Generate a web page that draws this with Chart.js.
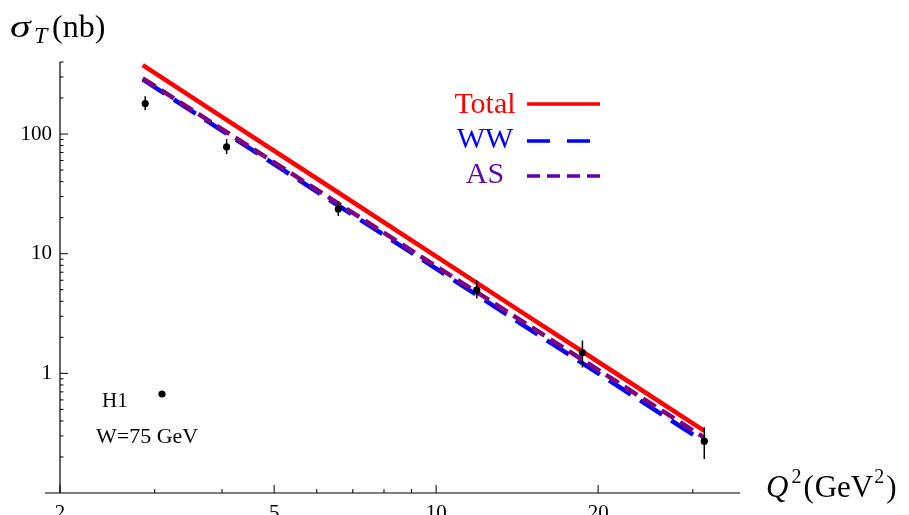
<!DOCTYPE html>
<html>
<head>
<meta charset="utf-8">
<script src="https://cdn.jsdelivr.net/npm/chart.js@4.4.1/dist/chart.umd.min.js"></script>
<style>
html,body{margin:0;padding:0;background:#fff;}
#c{display:block;}
</style>
</head>
<body>
<canvas id="c" width="909" height="515"></canvas>
<script>
// ---- data ----
const dataQ2     = [2.88, 4.08, 6.58, 11.9, 18.7, 31.5];
const dataSigma  = [180, 78, 23.6, 4.98, 1.49, 0.271];
const dataErrHi  = [207, 91, 27.3, 5.96, 1.88, 0.355];
const dataErrLo  = [158, 68, 20.7, 4.22, 1.12, 0.192];

const curveQ2    = [2.85, 4, 6, 10, 15, 20, 31.5];
const totalCurve = [376, 139, 42.5, 9.5, 2.9, 1.25, 0.33];
const wwCurve    = [286, 107, 33, 7.5, 2.3, 1.0, 0.268];
const asCurve    = [292, 110, 34.3, 7.85, 2.45, 1.07, 0.29];

const xTickLabels = [2, 5, 10, 20];
const xMinorTicks = [3, 4, 6, 7, 8, 9, 30];
const yTickLabels = [1, 10, 100];

const legendNames = ['Total', 'WW', 'AS'];

const SERIF = '"Liberation Serif", "Times New Roman", serif';

function pts(xs, ys){ return xs.map((x,i)=>({x:x, y:ys[i]})); }
function near(v, list){ return list.some(t => Math.abs(v - t) < 1e-6 * t); }

const decorPlugin = {
  id: 'decor',
  beforeDatasetsDraw(chart){
    const ctx = chart.ctx;
    const xs = chart.scales.x, ys = chart.scales.y;
    const ca = chart.chartArea;
    ctx.save();
    ctx.strokeStyle = '#000';
    ctx.lineWidth = 1.2;
    // axes
    ctx.beginPath();
    ctx.moveTo(ca.left - 15, ca.bottom); ctx.lineTo(ca.right, ca.bottom);
    ctx.moveTo(ca.left, ca.top); ctx.lineTo(ca.left, ca.bottom);
    ctx.stroke();
    ctx.lineWidth = 1;
    // x ticks (inward)
    ctx.beginPath();
    xTickLabels.forEach(v => { const p = xs.getPixelForValue(v); ctx.moveTo(p, ca.bottom); ctx.lineTo(p, ca.bottom - 8); });
    xMinorTicks.forEach(v => { const p = xs.getPixelForValue(v); ctx.moveTo(p, ca.bottom); ctx.lineTo(p, ca.bottom - 4); });
    // y ticks (inward)
    for (let k = -1; k <= 2; k++) {
      for (let m = 1; m <= 9; m++) {
        const v = m * Math.pow(10, k);
        if (v < ys.min * 1.0001 || v > ys.max * 1.0001) continue;
        const p = ys.getPixelForValue(v);
        ctx.moveTo(ca.left, p); ctx.lineTo(ca.left + (m === 1 ? 8 : 3.5), p);
      }
    }
    ctx.stroke();
    ctx.restore();
  },
  afterDatasetsDraw(chart){
    const ctx = chart.ctx;
    const xs = chart.scales.x, ys = chart.scales.y;
    ctx.save();
    // error bars
    ctx.strokeStyle = '#000';
    ctx.lineWidth = 1.5;
    ctx.beginPath();
    dataQ2.forEach((q, i) => {
      const px = xs.getPixelForValue(q);
      ctx.moveTo(px, ys.getPixelForValue(dataErrHi[i]));
      ctx.lineTo(px, ys.getPixelForValue(dataErrLo[i]));
    });
    ctx.stroke();

    // axis titles
    ctx.fillStyle = '#000';
    ctx.textBaseline = 'alphabetic';
    ctx.textAlign = 'left';
    // sigma_T(nb)
    ctx.save();
    ctx.translate(10, 37);
    ctx.scale(1.35, 1);
    ctx.font = 'italic 31px ' + SERIF;
    ctx.fillText('σ', 0, 0);
    ctx.restore();
    ctx.font = 'italic 24px ' + SERIF;
    ctx.fillText('T', 34, 43);
    ctx.font = '32px ' + SERIF;
    ctx.fillText('(nb)', 52, 37);

    // Q^2(GeV^2) laid out sequentially
    const yb = 497;
    let x = 766;
    const parts = [
      {t: 'Q', f: 'italic 31px ', dy: 0, gap: 3},
      {t: '2', f: '20px ', dy: -14, gap: 2},
      {t: '(', f: '31px ', dy: 0, gap: 1},
      {t: 'GeV', f: '31px ', dy: 0, gap: 1},
      {t: '2', f: '20px ', dy: -14, gap: 2},
      {t: ')', f: '31px ', dy: 0, gap: 0}
    ];
    parts.forEach(p => {
      ctx.font = p.f + SERIF;
      ctx.fillText(p.t, x, yb + p.dy);
      x += ctx.measureText(p.t).width + p.gap;
    });

    // legend
    const lg = [
      {name: legendNames[0], tc: '#ff0000', lc: '#ff0000', dash: [], yb: 113, yl: 104, x2: 600},
      {name: legendNames[1], tc: '#0000ff', lc: '#0000ff', dash: [23, 17], yb: 148, yl: 141, x2: 590},
      {name: legendNames[2], tc: '#5a0aaa', lc: '#6000b0', dash: [13, 7], yb: 183, yl: 176, x2: 600}
    ];
    ctx.font = '30px ' + SERIF;
    ctx.textAlign = 'center';
    lg.forEach(e => {
      ctx.fillStyle = e.tc;
      ctx.fillText(e.name, 485, e.yb);
      ctx.strokeStyle = e.lc;
      ctx.lineWidth = 3.5;
      ctx.setLineDash(e.dash);
      ctx.beginPath();
      ctx.moveTo(527, e.yl); ctx.lineTo(e.x2, e.yl);
      ctx.stroke();
    });
    ctx.setLineDash([]);

    // H1 annotation
    ctx.fillStyle = '#000';
    ctx.textAlign = 'left';
    ctx.font = '21px ' + SERIF;
    ctx.fillText('H1', 102, 407);
    ctx.font = '22px ' + SERIF;
    ctx.fillText('W=75 GeV', 96, 443);
    ctx.beginPath();
    ctx.arc(162, 394, 3.6, 0, Math.PI * 2);
    ctx.fill();
    ctx.restore();
  }
};

new Chart(document.getElementById('c'), {
  type: 'scatter',
  data: {
    datasets: [
      {
        label: 'H1', data: pts(dataQ2, dataSigma), showLine: false,
        pointRadius: 3.6, pointHoverRadius: 3.6, pointBackgroundColor: '#000', pointBorderColor: '#000', pointBorderWidth: 0, order: 0
      },
      {
        label: 'Total', data: pts(curveQ2, totalCurve), showLine: true, pointRadius: 0,
        borderColor: '#ff0000', borderWidth: 4.5, tension: 0, order: 1
      },
      {
        label: 'AS', data: pts(curveQ2, asCurve), showLine: true, pointRadius: 0,
        borderColor: '#800080', borderWidth: 4.5, borderDash: [15, 7], tension: 0, order: 2
      },
      {
        label: 'WW', data: pts(curveQ2, wwCurve), showLine: true, pointRadius: 0,
        borderColor: '#0000ff', borderWidth: 4.5, borderDash: [26, 11], tension: 0, order: 3
      }
    ]
  },
  options: {
    responsive: false,
    animation: false,
    devicePixelRatio: 1,
    layout: { padding: { top: 62, right: 169, left: 0, bottom: 0 } },
    plugins: { legend: { display: false }, tooltip: { enabled: false } },
    scales: {
      x: {
        type: 'logarithmic', min: 2, max: 36.7,
        grid: { display: true, drawOnChartArea: false, drawTicks: false },
        border: { display: false },
        ticks: {
          autoSkip: false, maxRotation: 0, padding: 8, color: '#000',
          font: { family: SERIF, size: 21 },
          callback: (v) => near(v, xTickLabels) ? String(Math.round(v)) : ''
        },
        afterFit: (s) => { s.height = 22; }
      },
      y: {
        type: 'logarithmic', min: 0.1, max: 400,
        grid: { display: true, drawOnChartArea: false, drawTicks: false },
        border: { display: false },
        ticks: {
          autoSkip: false, padding: 8, color: '#000',
          font: { family: SERIF, size: 21 },
          callback: (v) => near(v, yTickLabels) ? String(Math.round(v)) : ''
        },
        afterFit: (s) => { s.width = 60; }
      }
    }
  },
  plugins: [decorPlugin]
});
</script>
</body>
</html>
